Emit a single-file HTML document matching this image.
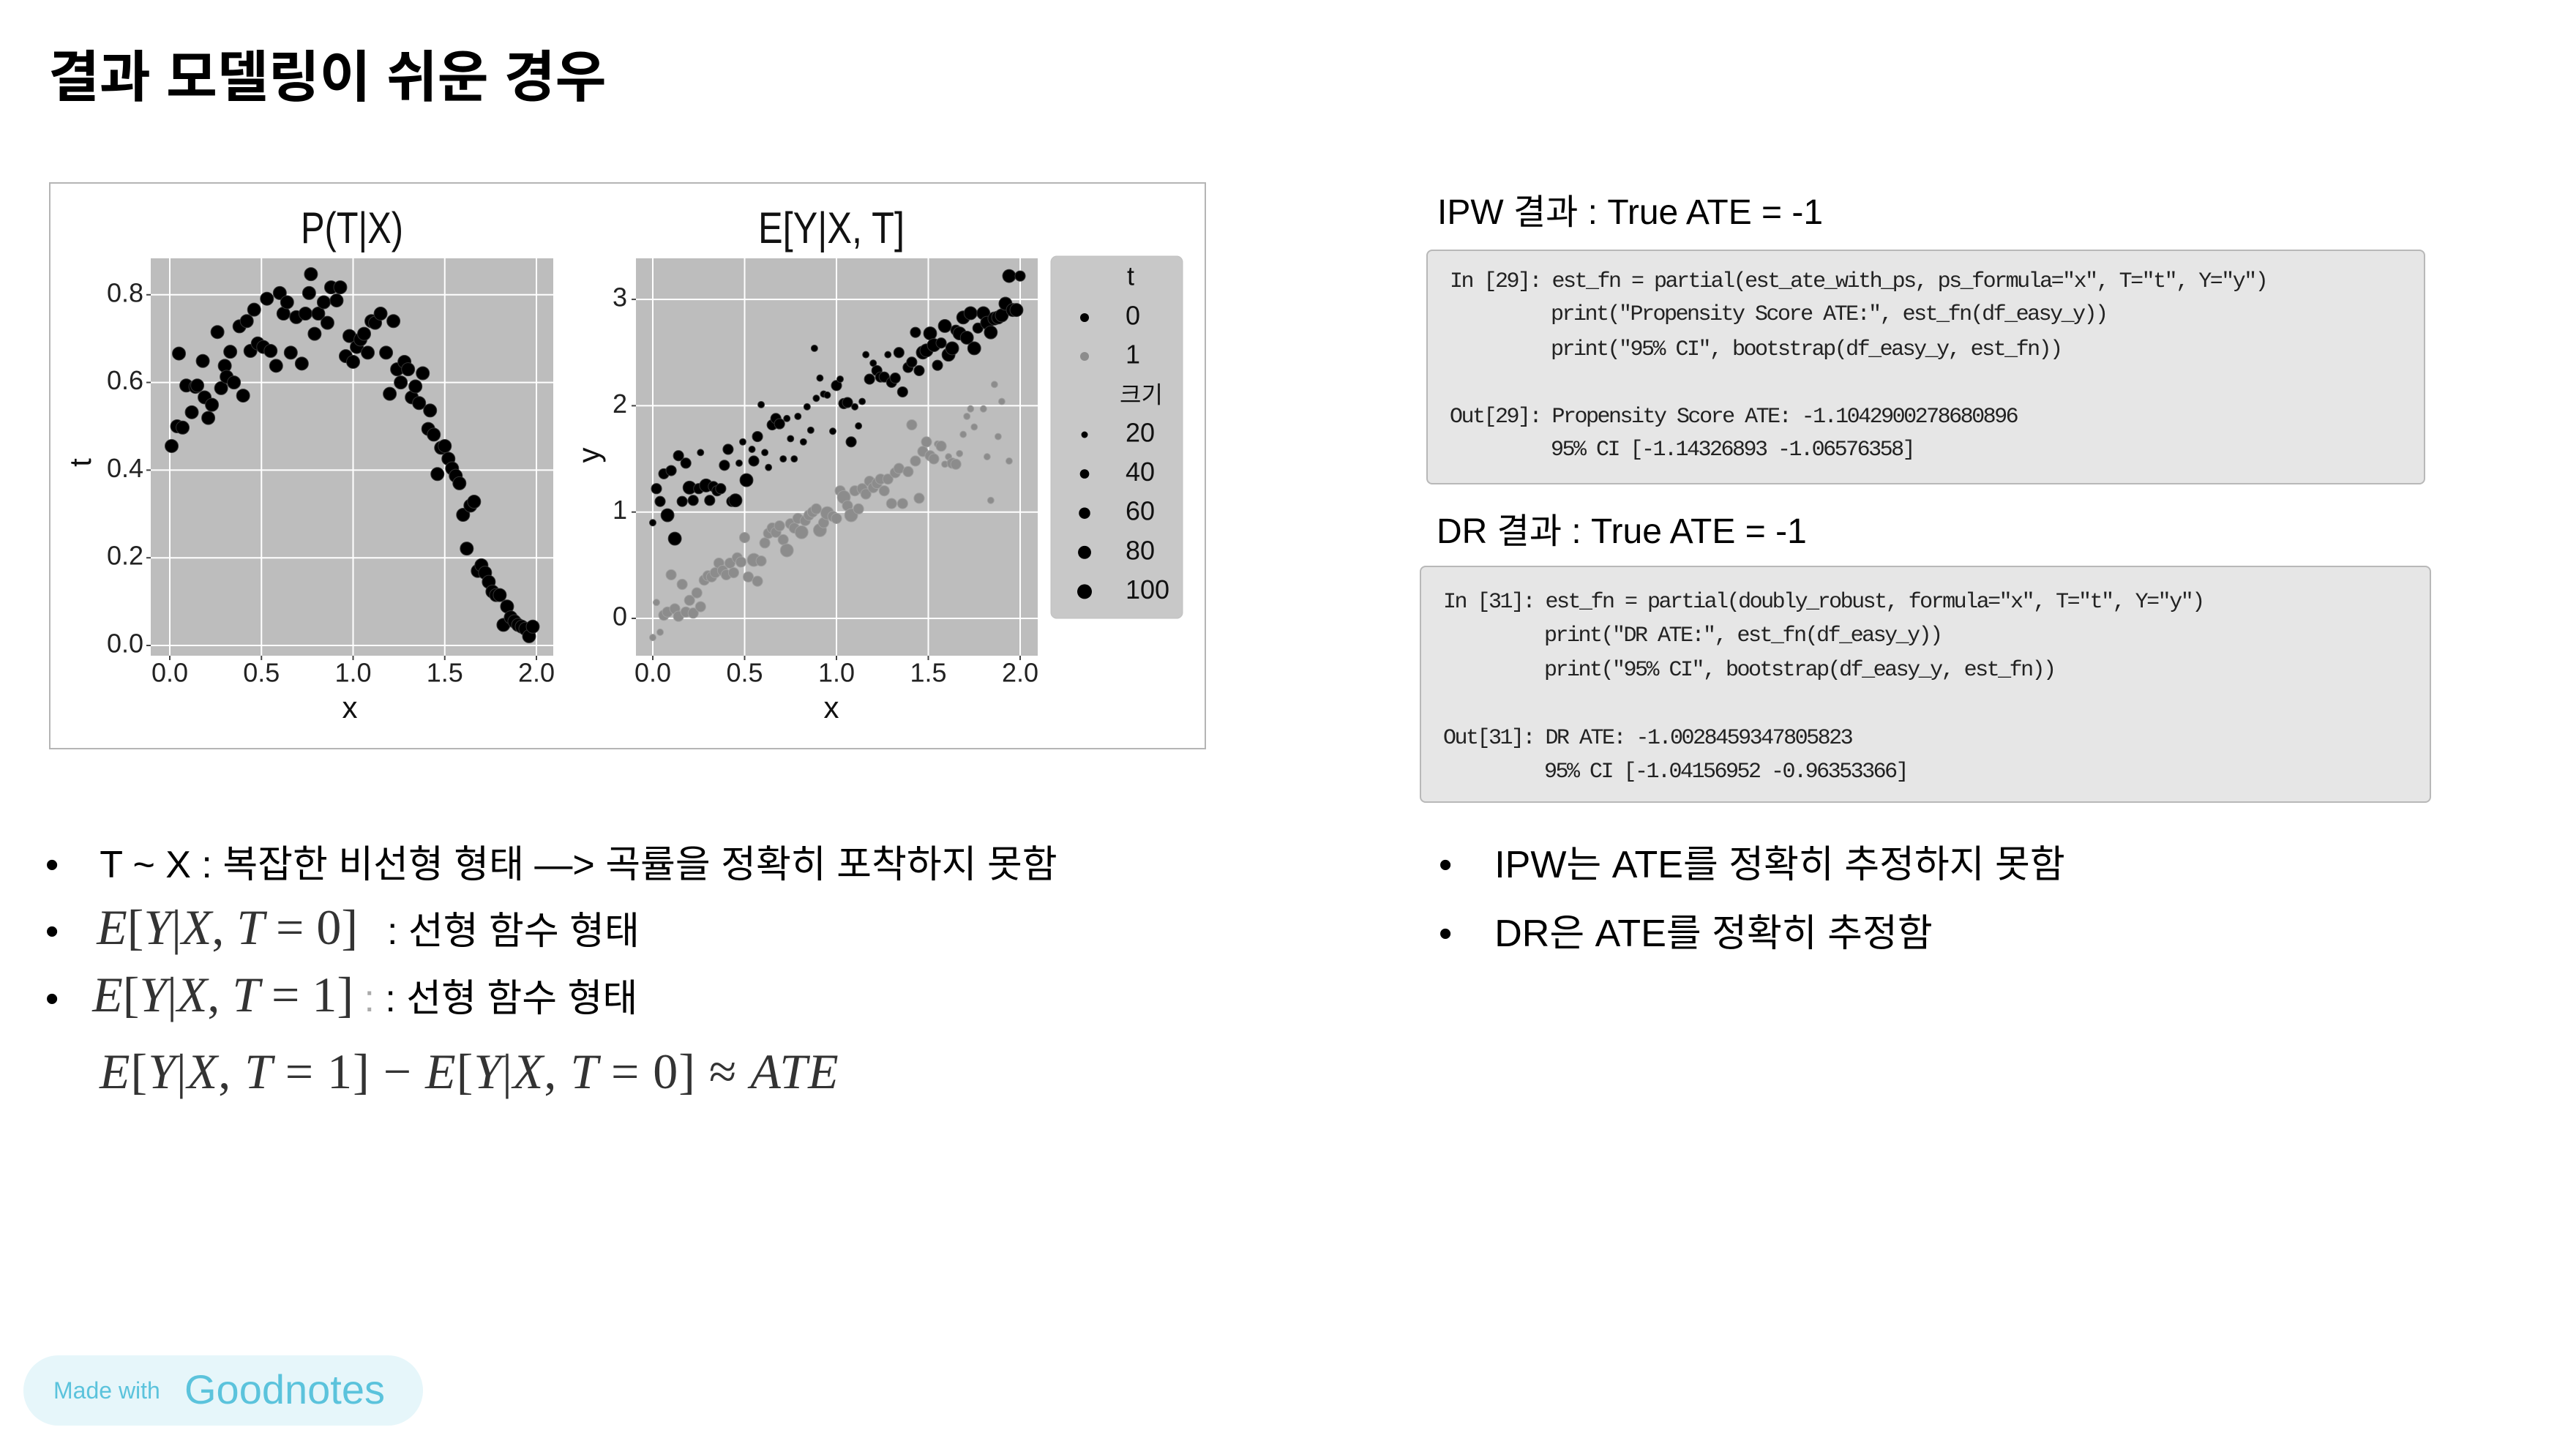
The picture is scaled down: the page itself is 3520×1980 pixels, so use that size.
<!DOCTYPE html>
<html><head><meta charset="utf-8">
<style>
body{margin:0;width:3520px;height:1980px;background:#fff;position:relative;overflow:hidden;font-family:"Liberation Sans","Noto Sans CJK KR",sans-serif;}
.abs{position:absolute;white-space:nowrap;}
.kr{font-family:"Liberation Sans","Noto Sans CJK KR",sans-serif;color:#000;}
.code{font-family:"Liberation Mono","Noto Sans CJK KR",monospace;font-size:30px;letter-spacing:-2.5px;color:#222;line-height:1;}
.box{position:absolute;background:#e6e6e6;border:2px solid #b8b8b8;border-radius:8px;}
.math{font-family:"Liberation Serif","DejaVu Serif",serif;font-style:italic;color:#333;font-size:68px;}
.math .u{font-style:normal;}
</style></head><body>
<div class="abs kr" style="left:66px;top:44px;font-size:76px;font-weight:bold;">결과 모델링이 쉬운 경우</div>

<div class="abs" style="left:67px;top:249px;width:1581px;height:775px;border:2px solid #b5b5b5;box-sizing:border-box;"></div>

<svg id="chart" width="3520" height="1980" style="position:absolute;left:0;top:0;" xmlns="http://www.w3.org/2000/svg" font-family="Liberation Sans, DejaVu Sans, sans-serif"></svg>

<div class="abs kr" style="left:1964px;top:250px;font-size:48px;">IPW 결과 : True ATE = -1</div>
<div class="box" style="left:1949px;top:341px;width:1361px;height:317px;"></div>
<div class="abs code" style="left:1981px;top:370px;">In [29]: est_fn = partial(est_ate_with_ps, ps_formula="x", T="t", Y="y")</div>
<div class="abs code" style="left:2119px;top:415px;">print("Propensity Score ATE:", est_fn(df_easy_y))</div>
<div class="abs code" style="left:2119px;top:463px;">print("95% CI", bootstrap(df_easy_y, est_fn))</div>
<div class="abs code" style="left:1981px;top:555px;">Out[29]: Propensity Score ATE: -1.1042900278680896</div>
<div class="abs code" style="left:2119px;top:600px;">95% CI [-1.14326893 -1.06576358]</div>

<div class="abs kr" style="left:1963px;top:686px;font-size:48px;">DR 결과 : True ATE = -1</div>
<div class="box" style="left:1940px;top:773px;width:1378px;height:320px;"></div>
<div class="abs code" style="left:1972px;top:808px;">In [31]: est_fn = partial(doubly_robust, formula="x", T="t", Y="y")</div>
<div class="abs code" style="left:2110px;top:854px;">print("DR ATE:", est_fn(df_easy_y))</div>
<div class="abs code" style="left:2110px;top:901px;">print("95% CI", bootstrap(df_easy_y, est_fn))</div>
<div class="abs code" style="left:1972px;top:994px;">Out[31]: DR ATE: -1.0028459347805823</div>
<div class="abs code" style="left:2110px;top:1040px;">95% CI [-1.04156952 -0.96353366]</div>

<div class="abs kr" style="left:62px;top:1139px;font-size:52px;">•<span style="display:inline-block;width:56px"></span>T ~ X : 복잡한 비선형 형태 —&gt; 곡률을 정확히 포착하지 못함</div>
<div class="abs kr" style="left:62px;top:1228px;font-size:52px;">•<span style="display:inline-block;width:52px"></span><span class="math">E<span class="u">[</span>Y<span class="u">|</span>X<span class="u">, </span>T <span class="u">= 0]</span></span><span style="display:inline-block;width:40px"></span>: 선형 함수 형태</div>
<div class="abs kr" style="left:62px;top:1320px;font-size:52px;">•<span style="display:inline-block;width:46px"></span><span class="math">E<span class="u">[</span>Y<span class="u">|</span>X<span class="u">, </span>T <span class="u">= 1]</span></span><span style="color:#aaa"> : </span>: 선형 함수 형태</div>
<div class="abs math" style="left:136px;top:1425px;letter-spacing:1px;">E<span class="u">[</span>Y<span class="u">|</span>X<span class="u">, </span>T <span class="u">= 1] − </span>E<span class="u">[</span>Y<span class="u">|</span>X<span class="u">, </span>T <span class="u">= 0] ≈ </span>ATE</div>

<div class="abs kr" style="left:1966px;top:1139px;font-size:52px;">•<span style="display:inline-block;width:58px"></span>IPW는 ATE를 정확히 추정하지 못함</div>
<div class="abs kr" style="left:1966px;top:1233px;font-size:52px;">•<span style="display:inline-block;width:58px"></span>DR은 ATE를 정확히 추정함</div>

<div class="abs" style="left:32px;top:1852px;width:546px;height:96px;border-radius:48px;background:#e6f6fa;"></div>
<div class="abs" style="left:73px;top:1882px;font-size:32px;color:#5bc3dc;">Made with</div>
<div class="abs" style="left:252px;top:1866px;font-size:56px;color:#5bc3dc;">Goodnotes</div>

<script>
// Left plot data: P(T|X)
const leftX = [0.01,0.04,0.07,0.05,0.09,0.12,0.14,0.15,0.18,0.19,0.21,0.23,0.26,0.28,0.30,0.31,0.33,0.35,0.38,0.40,0.42,0.44,0.46,0.48,0.51,0.53,0.55,0.58,0.60,0.62,0.64,0.66,0.69,0.72,0.74,0.76,0.77,0.79,0.81,0.84,0.86,0.88,0.91,0.93,0.96,0.98,1.00,1.02,1.04,1.06,1.08,1.10,1.12,1.15,1.18,1.20,1.22,1.24,1.26,1.28,1.30,1.32,1.34,1.36,1.38,1.41,1.42,1.44,1.46,1.48,1.50,1.52,1.54,1.56,1.58,1.60,1.62,1.64,1.66,1.68,1.70,1.72,1.74,1.76,1.78,1.80,1.82,1.84,1.86,1.88,1.90,1.92,1.94,1.96,1.98];
const leftT = [0.455,0.50,0.497,0.666,0.593,0.532,0.59,0.593,0.649,0.566,0.519,0.549,0.715,0.587,0.638,0.613,0.67,0.60,0.728,0.57,0.74,0.672,0.766,0.689,0.681,0.791,0.672,0.638,0.804,0.757,0.783,0.668,0.749,0.643,0.757,0.804,0.847,0.711,0.757,0.783,0.736,0.817,0.787,0.817,0.66,0.706,0.647,0.681,0.698,0.711,0.668,0.74,0.736,0.757,0.668,0.574,0.74,0.63,0.60,0.647,0.63,0.566,0.591,0.553,0.621,0.494,0.536,0.481,0.391,0.451,0.455,0.426,0.404,0.387,0.370,0.298,0.221,0.319,0.328,0.17,0.183,0.166,0.145,0.123,0.115,0.115,0.047,0.089,0.064,0.055,0.047,0.043,0.038,0.021,0.043];
const leftXTicks = [0,0.5,1.0,1.5,2.0];
const leftYTicks = [0,0.2,0.4,0.6,0.8];

// Right plot data: E[Y|X,T], t=0 (black)
const x0 = [0.00,0.02,0.04,0.06,0.08,0.10,0.12,0.14,0.16,0.18,
0.20,0.22,0.25,0.26,0.29,0.31,0.33,0.35,0.37,0.39,
0.41,0.43,0.45,0.47,0.49,0.51,0.54,0.55,0.57,0.59,
0.61,0.63,0.65,0.67,0.69,0.71,0.73,0.75,0.77,0.79,
0.82,0.84,0.86,0.88,0.89,0.91,0.93,0.95,0.98,1.00,
1.02,1.04,1.06,1.08,1.10,1.12,1.14,1.16,1.18,1.20,
1.22,1.24,1.26,1.28,1.30,1.32,1.34,1.36,1.39,1.41,
1.43,1.45,1.47,1.49,1.51,1.53,1.55,1.57,1.59,1.61,
1.63,1.65,1.67,1.69,1.71,1.73,1.75,1.77,1.80,1.82,
1.84,1.86,1.88,1.90,1.92,1.94,1.96,1.98,2.00];
const y0 = [0.90,1.22,1.10,1.36,0.97,1.39,0.75,1.53,1.10,1.46,
1.23,1.11,1.22,1.56,1.25,1.11,1.24,1.20,1.22,1.44,
1.59,1.10,1.11,1.46,1.66,1.30,1.59,1.48,1.71,2.01,
1.56,1.42,1.82,1.88,1.83,1.50,1.88,1.69,1.50,1.90,
1.66,1.99,1.77,2.54,2.07,2.26,2.11,2.10,1.76,2.19,
2.25,2.02,2.03,1.66,1.99,1.81,2.04,2.48,2.25,2.40,
2.33,2.27,2.27,2.48,2.22,2.26,2.50,2.13,2.36,2.41,
2.69,2.33,2.50,2.52,2.68,2.57,2.38,2.59,2.75,2.48,
2.54,2.71,2.68,2.83,2.64,2.87,2.54,2.73,2.87,2.78,
2.69,2.82,2.83,2.85,2.96,3.22,2.90,2.90,3.22];
const s0 = [20,50,50,50,80,50,80,50,50,50,
80,50,50,20,80,50,50,50,50,50,
50,50,80,20,20,80,20,50,50,20,
20,20,50,50,50,20,20,20,20,20,
20,20,20,20,20,20,20,20,20,50,
20,50,50,50,20,20,20,20,50,20,
50,50,50,20,50,50,50,50,50,50,
50,50,80,80,80,80,50,50,80,80,
80,50,80,80,80,80,80,50,80,80,
80,80,80,80,80,80,80,80,50];
// t=1 (gray)
const x1 = [0.00,0.02,0.04,0.06,0.08,0.10,0.12,0.14,0.16,0.18,
0.20,0.22,0.24,0.26,0.28,0.30,0.32,0.34,0.36,0.38,
0.40,0.42,0.44,0.46,0.48,0.50,0.52,0.55,0.57,0.59,
0.61,0.63,0.65,0.67,0.69,0.71,0.73,0.75,0.77,0.79,
0.81,0.83,0.85,0.87,0.89,0.91,0.93,0.95,0.98,1.00,
1.02,1.04,1.06,1.08,1.10,1.12,1.14,1.16,1.18,1.20,
1.22,1.24,1.26,1.28,1.30,1.32,1.34,1.36,1.39,1.41,
1.43,1.45,1.47,1.49,1.51,1.53,1.55,1.57,1.59,1.61,
1.63,1.65,1.67,1.69,1.71,1.73,1.75,1.80,1.82,1.84,
1.86,1.88,1.90,1.94];
const y1 = [-0.18,0.15,-0.13,0.03,0.06,0.41,0.09,0.02,0.32,0.06,
0.17,0.05,0.24,0.11,0.36,0.40,0.39,0.43,0.52,0.45,
0.41,0.52,0.43,0.57,0.53,0.76,0.39,0.55,0.35,0.54,
0.71,0.80,0.85,0.81,0.87,0.74,0.64,0.89,0.85,0.94,
0.81,0.92,0.97,1.00,1.03,0.83,0.90,0.99,0.96,0.94,
1.20,1.14,1.06,0.97,1.20,1.03,1.22,1.17,1.29,1.23,
1.27,1.31,1.20,1.31,1.08,1.37,1.41,1.08,1.38,1.82,
1.48,1.13,1.57,1.66,1.53,1.50,1.64,1.62,1.45,1.52,
1.46,1.45,1.55,1.73,1.90,1.97,1.80,1.97,1.52,1.11,
2.20,1.71,2.04,1.48];
const s1 = [20,20,20,50,50,50,50,50,50,50,
50,50,50,50,50,50,50,50,50,50,
50,50,50,50,50,50,50,80,50,50,
50,50,50,50,50,50,80,50,50,50,
80,50,50,50,50,80,50,80,50,50,
50,80,50,80,50,50,50,50,50,50,
50,50,50,50,50,50,50,50,50,50,
50,50,50,50,50,50,20,50,20,20,
50,50,20,20,20,20,20,20,20,20,
20,20,20,20];
const rightXTicks = [0,0.5,1.0,1.5,2.0];
const rightYTicks = [0,1,2,3];
const legendSizes = [20,40,60,80,100];
const tickLabelLeftX = ['0.0','0.5','1.0','1.5','2.0'];
const tickLabelLeftY = ['0.0','0.2','0.4','0.6','0.8'];

const svg = document.getElementById('chart');
const NS = 'http://www.w3.org/2000/svg';
function mk(tag, attrs, parent){const e=document.createElementNS(NS,tag);for(const k in attrs)e.setAttribute(k,attrs[k]);(parent||svg).appendChild(e);return e;}

const L = {x0:206,x1:756,y0:353,y1:896};
const R = {x0:869,x1:1418,y0:353,y1:896};
const lx = v => 232 + v*250.5;
const ly = v => 882 - v*599;
const rx = v => 892 + v*251;
const ry = v => 845 - v*145.3;
const rad = s => Math.sqrt(s)*1.0;

function panel(P, name){
  const r = mk('rect',{x:P.x0,y:P.y0,width:P.x1-P.x0,height:P.y1-P.y0,fill:'#bdbdbd'});
  
  
}
panel(L,'left-plot-area');
panel(R,'right-plot-area');

leftXTicks.forEach((v,i)=>{
  const g = mk('line',{x1:lx(v),x2:lx(v),y1:L.y0,y2:L.y1,stroke:'#fff','stroke-width':2});
  
  
  mk('line',{x1:lx(v),x2:lx(v),y1:L.y1,y2:L.y1+6,stroke:'#444','stroke-width':2});
  const t = mk('text',{x:lx(v),y:922,'font-size':36,'text-anchor':'middle','dominant-baseline':'middle',fill:'#222'});
  t.textContent = tickLabelLeftX[i];
  
  
});
leftYTicks.forEach((v,i)=>{
  const g = mk('line',{x1:L.x0,x2:L.x1,y1:ly(v),y2:ly(v),stroke:'#fff','stroke-width':2});
  
  
  mk('line',{x1:L.x0-6,x2:L.x0,y1:ly(v),y2:ly(v),stroke:'#444','stroke-width':2});
  const t = mk('text',{x:L.x0-10,y:ly(v),'font-size':36,'text-anchor':'end','dominant-baseline':'middle',fill:'#222'});
  t.textContent = tickLabelLeftY[i];
  
  
});
rightXTicks.forEach((v,i)=>{
  const g = mk('line',{x1:rx(v),x2:rx(v),y1:R.y0,y2:R.y1,stroke:'#fff','stroke-width':2});
  
  
  mk('line',{x1:rx(v),x2:rx(v),y1:R.y1,y2:R.y1+6,stroke:'#444','stroke-width':2});
  const t = mk('text',{x:rx(v),y:922,'font-size':36,'text-anchor':'middle','dominant-baseline':'middle',fill:'#222'});
  t.textContent = tickLabelLeftX[i];
  
  
});
rightYTicks.forEach(v=>{
  const g = mk('line',{x1:R.x0,x2:R.x1,y1:ry(v),y2:ry(v),stroke:'#fff','stroke-width':2});
  
  
  mk('line',{x1:R.x0-6,x2:R.x0,y1:ry(v),y2:ry(v),stroke:'#444','stroke-width':2});
  const t = mk('text',{x:R.x0-12,y:ry(v),'font-size':36,'text-anchor':'end','dominant-baseline':'middle',fill:'#222'});
  t.textContent = String(v);
  
  
});

leftX.forEach((v,i)=>{
  const c = mk('circle',{cx:lx(v),cy:ly(leftT[i]),r:9,fill:'#000',stroke:'#333','stroke-width':1});
  
  
});
x1.forEach((v,i)=>{
  const c = mk('circle',{cx:rx(v),cy:ry(y1[i]),r:rad(s1[i]),fill:'#8c8c8c',stroke:'#a0a0a0','stroke-width':1});
  
  
});
x0.forEach((v,i)=>{
  const c = mk('circle',{cx:rx(v),cy:ry(y0[i]),r:rad(s0[i]),fill:'#000',stroke:'#333','stroke-width':1});
  
  
});

function txt(x,y,s,size,name,extra){
  const t = mk('text',Object.assign({x:x,y:y,'font-size':size,'text-anchor':'middle','dominant-baseline':'middle',fill:'#111'},extra||{}));
  t.textContent = s;
  
  
  return t;
}
txt(481,316,'P(T|X)',60,'left-chart-title',{textLength:140,lengthAdjust:'spacingAndGlyphs'});
txt(1136,316,'E[Y|X, T]',60,'right-chart-title',{textLength:200,lengthAdjust:'spacingAndGlyphs'});
txt(478,970,'x',42,'left-x-axis-title');
txt(1136,970,'x',42,'right-x-axis-title');
txt(113,632,'t',42,'left-y-axis-title',{transform:'rotate(-90 113 632)'});
txt(808,622,'y',42,'right-y-axis-title',{transform:'rotate(-90 808 622)'});

const lg = mk('rect',{x:1436,y:350,width:180,height:495,rx:8,fill:'#c8c8c8',stroke:'#c0c0c0'});


txt(1540,380,'t',36,'legend-title-t',{'text-anchor':'start'});
const m0 = mk('circle',{cx:1482,cy:434,r:6,fill:'#000'});


txt(1538,434,'0',36,'legend-label-t0',{'text-anchor':'start'});
const m1 = mk('circle',{cx:1482,cy:487,r:6,fill:'#8c8c8c'});


txt(1538,487,'1',36,'legend-label-t1',{'text-anchor':'start'});
const kt = mk('text',{x:1530,y:542,'font-size':32,'dominant-baseline':'middle',fill:'#111','font-family':'Noto Sans CJK KR, sans-serif'});
kt.textContent = '크기';


legendSizes.forEach((s,i)=>{
  const cy = 594 + i*53.6;
  const c = mk('circle',{cx:1482,cy:cy,r:Math.sqrt(s)*1.0,fill:'#000'});
  
  
  txt(1538,cy,String(s),36,'legend-size-label',{'text-anchor':'start'});
});
</script>
</body></html>
